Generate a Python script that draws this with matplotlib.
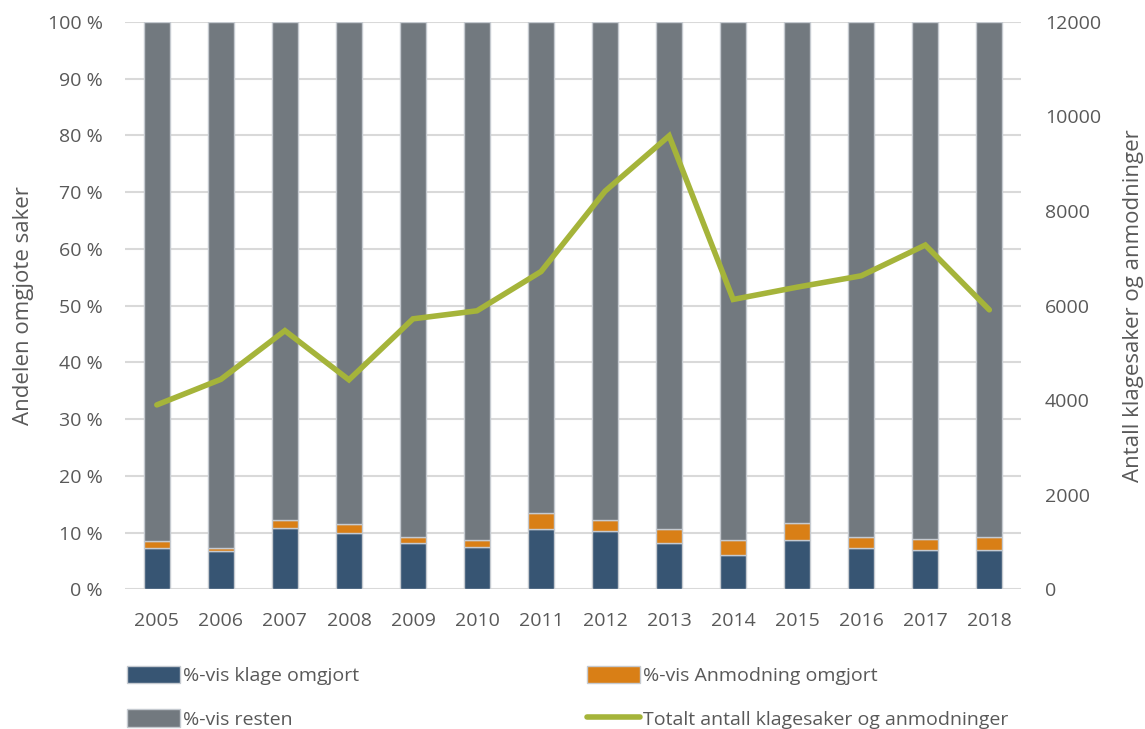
import numpy as np
import matplotlib
matplotlib.use("Agg")
import matplotlib.pyplot as plt

plt.rcParams['font.family'] = ['Open Sans', 'DejaVu Sans']

years = [str(y) for y in range(2005, 2019)]
klage_omgjort = [7.25, 6.7, 10.8, 9.9, 8.1, 7.4, 10.6, 10.3, 8.1, 6.0, 8.7, 7.2, 6.9, 6.9]
anmodning_omgjort = [1.2, 0.5, 1.35, 1.65, 1.2, 1.3, 2.8, 1.95, 2.45, 2.7, 2.9, 2.0, 2.0, 2.3]
totalt_antall = [3900, 4440, 5470, 4430, 5720, 5890, 6720, 8420, 9590, 6130, 6390, 6630, 7280, 5910]

resten = [100 - a - b for a, b in zip(klage_omgjort, anmodning_omgjort)]

c_blue = '#375573'
c_orange = '#d97f16'
c_grey = '#72797f'
c_green = '#a5b43a'
c_text = '#595959'
c_grid = '#d9d9d9'
c_edge = '#c5cad0'

fig = plt.figure(figsize=(11.45, 7.29), dpi=100)
ax = fig.add_axes([0.109, 0.1916, 0.783, 0.7784])
x = np.arange(len(years))
w = 0.41

b1 = ax.bar(x, klage_omgjort, w, color=c_blue, edgecolor=c_edge, linewidth=1, zorder=2,
            label='%-vis klage omgjort')
b2 = ax.bar(x, anmodning_omgjort, w, bottom=klage_omgjort, color=c_orange, edgecolor=c_edge,
            linewidth=1, zorder=2, label='%-vis Anmodning omgjort')
bottom3 = [a + b for a, b in zip(klage_omgjort, anmodning_omgjort)]
b3 = ax.bar(x, resten, w, bottom=bottom3, color=c_grey, edgecolor=c_edge, linewidth=1,
            zorder=2, label='%-vis resten')

ax.set_xlim(-0.5, len(years) - 0.5)
ax.set_ylim(0, 100)
ax.set_yticks(range(0, 101, 10))
ax.set_yticklabels([f'{v} %' for v in range(0, 101, 10)])
ax.set_xticks(x)
ax.set_xticklabels(years)
ax.yaxis.grid(True, color=c_grid, linewidth=1.5, zorder=0)
ax.set_axisbelow(True)
for s in ax.spines.values():
    s.set_visible(False)
ax.tick_params(axis='y', length=0, pad=16, labelsize=14, labelcolor=c_text)
ax.tick_params(axis='x', length=0, pad=16, labelsize=14, labelcolor=c_text)
ax.set_ylabel('Andelen omgjote saker', fontsize=16, color=c_text, labelpad=10)

ax2 = ax.twinx()
line, = ax2.plot(x, totalt_antall, color=c_green, linewidth=4, solid_capstyle='round',
                 solid_joinstyle='miter', zorder=3, label='Totalt antall klagesaker og anmodninger')
ax2.set_ylim(0, 12000)
ax2.set_yticks(range(0, 12001, 2000))
for s in ax2.spines.values():
    s.set_visible(False)
ax2.tick_params(axis='y', length=0, pad=17, labelsize=14, labelcolor=c_text)
ax2.set_ylabel('Antall klagesaker og anmodninger', fontsize=16, color=c_text, labelpad=16)

fig.legend(handles=[b1, b3, b2, line], ncol=2, loc='upper left',
           bbox_to_anchor=(0.111, 0.087), frameon=False, fontsize=14,
           handlelength=2.7, handleheight=1.0, handletextpad=0.2,
           columnspacing=11.7, labelspacing=1.25, borderaxespad=0, borderpad=0,
           labelcolor=c_text)

fig.savefig('out.png', dpi=100)
